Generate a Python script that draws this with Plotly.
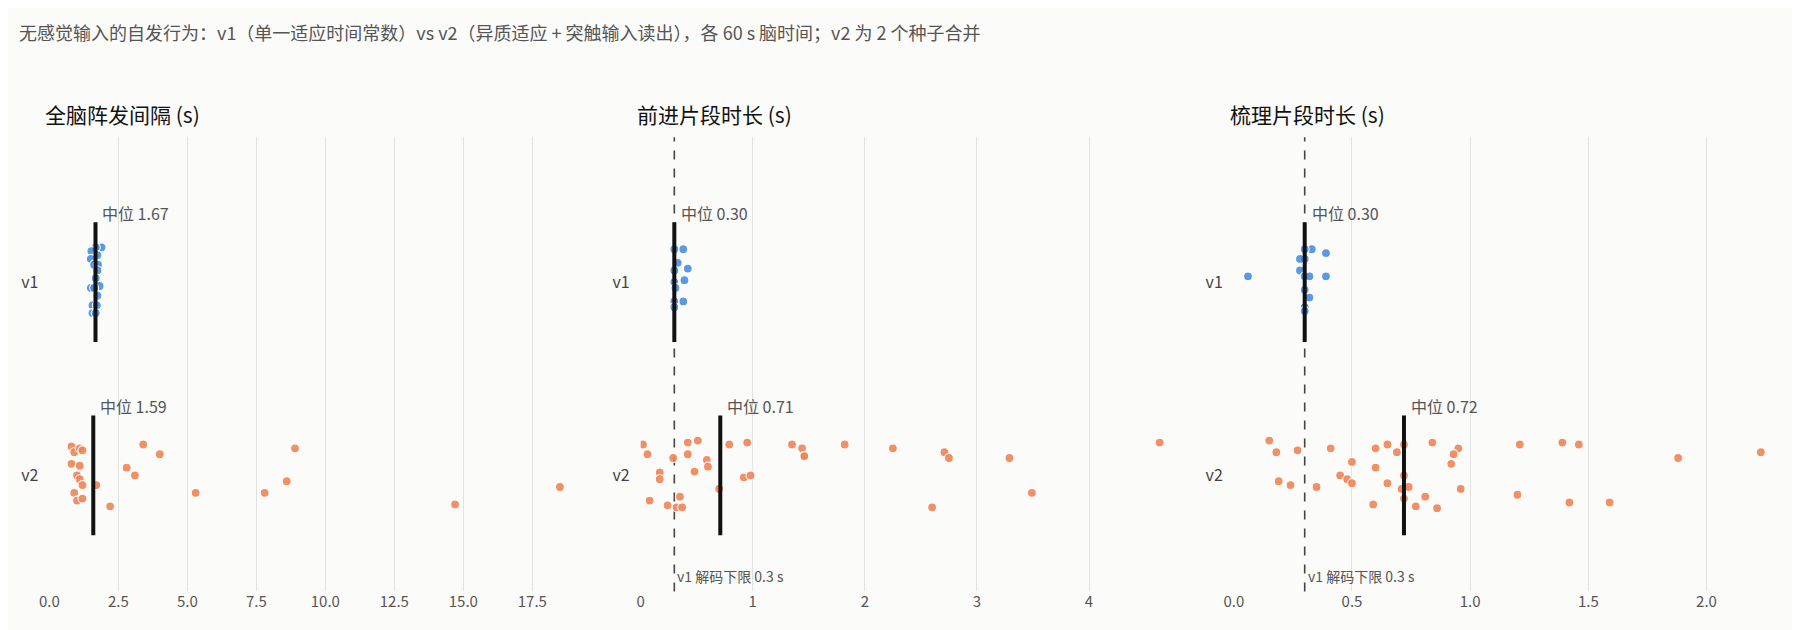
import plotly.graph_objects as go

FONT = "Noto Sans CJK SC, Noto Sans, sans-serif"
TITLE = "无感觉输入的自发行为：v1（单一适应时间常数）vs v2（异质适应 + 突触输入读出），各 60 s 脑时间；v2 为 2 个种子合并"
PANEL_TITLES = ["全脑阵发间隔 (s)", "前进片段时长 (s)", "梳理片段时长 (s)"]
CATS = ["v1", "v2"]

# panel 1: burst intervals
p1_v1_x = [1.89, 1.68, 1.52, 1.74, 1.50, 1.62, 1.76, 1.74, 1.68, 1.82, 1.50, 1.62, 1.74, 1.56, 1.72, 1.56, 1.68]
p1_v1_j = [-0.18, -0.18, -0.16, -0.14, -0.12, -0.09, -0.09, -0.06, -0.02, 0.02, 0.03, 0.03, 0.07, 0.12, 0.12, 0.16, 0.16]
p1_v2_x = [0.8, 0.9, 1.1, 1.2, 0.8, 1.1, 1.0, 1.1, 1.2, 0.9, 1.0, 1.2, 1.7, 2.2, 2.8, 3.1, 3.4, 4.0, 5.3, 7.8, 8.6, 8.9, 14.7, 18.5]
p1_v2_j = [-0.15, -0.12, -0.14, -0.13, -0.06, -0.05, 0.0, 0.02, 0.05, 0.09, 0.13, 0.12, 0.05, 0.16, -0.04, 0.0, -0.16, -0.11, 0.09, 0.09, 0.03, -0.14, 0.15, 0.06]
p1_med = [1.67, 1.59]

# panel 2: forward bout durations
p2_v1_x = [0.30, 0.38, 0.33, 0.42, 0.39, 0.30, 0.30, 0.31, 0.38, 0.30, 0.30]
p2_v1_j = [-0.17, -0.17, -0.10, -0.07, -0.01, -0.06, 0.0, 0.03, 0.10, 0.10, 0.13]
p2_v2_x = [0.02, 0.06, 0.29, 0.42, 0.51, 0.42, 0.59, 0.60, 0.48, 0.17, 0.17, 0.79, 0.95, 0.92, 0.98, 0.70, 0.35, 0.08, 0.24, 0.32, 0.37,
           1.35, 1.44, 1.46, 1.46, 1.82, 2.25, 2.71, 2.75, 3.29, 2.60, 3.49, 4.63]
p2_v2_j = [-0.16, -0.11, -0.09, -0.17, -0.18, -0.11, -0.08, -0.045, -0.02, -0.015, 0.02, -0.16, -0.17, 0.01, 0.0, 0.07, 0.11, 0.13, 0.155, 0.165, 0.165,
           -0.16, -0.14, -0.10, -0.10, -0.16, -0.14, -0.12, -0.09, -0.09, 0.165, 0.09, -0.17]
p2_med = [0.30, 0.71]

# panel 3: grooming bout durations
p3_v1_x = [0.06, 0.33, 0.39, 0.39, 0.28, 0.30, 0.28, 0.30, 0.32, 0.30, 0.32, 0.30, 0.30, 0.30]
p3_v1_j = [-0.03, -0.17, -0.15, -0.03, -0.06, -0.12, -0.12, -0.03, -0.03, 0.04, 0.08, 0.13, -0.17, 0.15]
p3_v2_x = [0.15, 0.18, 0.27, 0.41, 0.60, 0.65, 0.69, 0.72, 0.84, 0.95, 0.93, 0.92, 0.50, 0.60, 0.45, 0.48, 0.50, 0.65, 0.72, 0.71,
           0.74, 0.81, 0.96, 0.59, 0.77, 0.86, 0.72, 0.19, 0.24, 0.35, 1.21, 1.20, 1.39, 1.46, 1.42, 1.59, 1.88, 2.23]
p3_v2_j = [-0.18, -0.12, -0.13, -0.14, -0.14, -0.16, -0.12, -0.16, -0.17, -0.14, -0.11, -0.06, -0.07, -0.04, 0.0, 0.02, 0.04, 0.04, 0.0, 0.07,
           0.06, 0.11, 0.07, 0.15, 0.16, 0.17, 0.12, 0.03, 0.05, 0.06, -0.16, 0.10, -0.17, -0.16, 0.14, 0.14, -0.09, -0.12]
p3_med = [0.30, 0.72]

FLOOR = 0.3
FLOOR_LABEL = "v1 解码下限 0.3 s"
x_ranges = [[0, 19.6], [0, 4.85], [0, 2.3]]
x_ticks = [[0, 2.5, 5, 7.5, 10, 12.5, 15, 17.5], [0, 1, 2, 3, 4], [0, 0.5, 1, 1.5, 2]]
x_ticktext = [["0.0", "2.5", "5.0", "7.5", "10.0", "12.5", "15.0", "17.5"], ["0", "1", "2", "3", "4"], ["0.0", "0.5", "1.0", "1.5", "2.0"]]

panels = [(p1_v1_x, p1_v1_j, p1_v2_x, p1_v2_j, p1_med, False),
          (p2_v1_x, p2_v1_j, p2_v2_x, p2_v2_j, p2_med, True),
          (p3_v1_x, p3_v1_j, p3_v2_x, p3_v2_j, p3_med, True)]
domains = [[0.023, 0.3235], [0.3515, 0.6535], [0.681, 0.983]]
BLUE, ORANGE = "#4a8fe0", "#f08456"
BG = "#fbfbf9"

fig = go.Figure()
layout = dict(paper_bgcolor=BG, plot_bgcolor=BG, width=1800, height=630, showlegend=False,
              margin=dict(l=0, r=0, t=0, b=0, autoexpand=False), font=dict(family=FONT, color="#444"))
anns = [dict(text=TITLE, x=0.005, y=0.985, xref="paper", yref="paper", xanchor="left", yanchor="top",
             showarrow=False, font=dict(size=18, color="#555"))]
shapes = []
for i, (v1x, v1j, v2x, v2j, med, floor) in enumerate(panels):
    n = "" if i == 0 else str(i + 1)
    xa, ya = "x" + n, "y" + n
    for xs, js, base, col in [(v1x, v1j, 0, BLUE), (v2x, v2j, 1, ORANGE)]:
        fig.add_trace(go.Scatter(x=xs, y=[base + j for j in js], mode="markers", xaxis=xa, yaxis=ya,
                                 marker=dict(size=9, color=col, opacity=0.9, line=dict(color="white", width=1.2))))
    for k, m in enumerate(med):
        fig.add_trace(go.Scatter(x=[m, m], y=[k - 0.31, k + 0.31], mode="lines", xaxis=xa, yaxis=ya,
                                 line=dict(color="#111", width=4)))
        anns.append(dict(text=f"中位 {m:.2f}", x=m, y=k - 0.36, xref=xa, yref=ya, xanchor="left",
                         xshift=5, showarrow=False, font=dict(size=16, color="#555")))
    if floor:
        shapes.append(dict(type="line", x0=FLOOR, x1=FLOOR, y0=0, y1=1, xref=xa, yref=ya + " domain",
                           line=dict(color="#444", width=1.6, dash="dash"), layer="below"))
        anns.append(dict(text=FLOOR_LABEL, x=FLOOR, y=1.52, xref=xa, yref=ya, xanchor="left", xshift=1,
                         showarrow=False, font=dict(size=14, color="#555")))
    anns.append(dict(text=PANEL_TITLES[i], x=domains[i][0], y=0.805, xref="paper", yref="paper",
                     xanchor="left", yanchor="bottom", xshift=-6, showarrow=False, font=dict(size=21, color="#111")))
    layout["xaxis" + n] = dict(domain=domains[i], range=x_ranges[i], tickvals=x_ticks[i], ticktext=x_ticktext[i],
                               showgrid=True, gridcolor="#e2e2e2", gridwidth=1.3, zeroline=False, showline=False,
                               tickfont=dict(size=15, color="#555"), anchor=ya, automargin=False)
    layout["yaxis" + n] = dict(domain=[0.074, 0.795], range=[1.6, -0.75], tickvals=[0, 1], ticktext=CATS,
                               showgrid=False, zeroline=False, showline=False, anchor=xa, automargin=False,
                               tickfont=dict(size=16, color="#444"), ticklabelstandoff=10)
layout["annotations"] = anns
layout["shapes"] = shapes
fig.update_layout(**layout)
fig.write_html("out.html")
